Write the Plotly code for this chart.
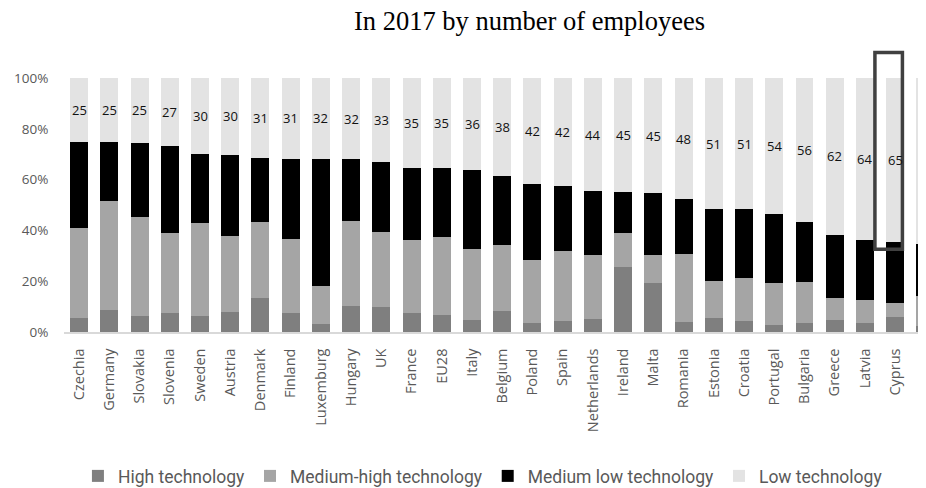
import plotly.graph_objects as go

countries = ["Czechia", "Germany", "Slovakia", "Slovenia", "Sweden", "Austria", "Denmark",
             "Finland", "Luxemburg", "Hungary", "UK", "France", "EU28", "Italy", "Belgium",
             "Poland", "Spain", "Netherlands", "Ireland", "Malta", "Romania", "Estonia",
             "Croatia", "Portugal", "Bulgaria", "Greece", "Latvia", "Cyprus", "Lithuania"]

high = [5.5, 8.6, 6.2, 7.4, 6.3, 7.9, 13.4, 7.4, 3.2, 10.3, 9.7, 7.4, 6.7, 4.7, 8.3,
        3.4, 4.5, 5.1, 25.5, 19.2, 3.8, 5.4, 4.2, 2.6, 3.4, 4.9, 3.6, 5.8, 2.4]
medium_high = [35.3, 42.8, 39.2, 31.5, 36.5, 30.0, 30.0, 29.3, 15.1, 33.4, 29.6, 29.0, 30.8,
               28.1, 25.8, 24.8, 27.3, 25.3, 13.6, 11.3, 27.0, 14.6, 17.2, 16.5, 16.2, 8.4,
               8.9, 5.5, 11.7]
medium_low = [34.2, 23.3, 29.1, 34.3, 27.3, 31.8, 25.2, 31.6, 50.0, 24.3, 27.5, 28.3, 27.0,
              30.9, 27.3, 30.0, 25.8, 25.0, 15.9, 24.1, 21.4, 28.3, 26.9, 27.2, 23.8, 24.9,
              23.6, 24.0, 20.5]
low = [25.0, 25.3, 25.5, 26.8, 29.9, 30.3, 31.4, 31.7, 31.7, 32.0, 33.2, 35.3, 35.5, 36.3,
       38.6, 41.8, 42.4, 44.6, 45.0, 45.4, 47.8, 51.7, 51.7, 53.7, 56.6, 61.8, 63.9, 64.7, 65.4]
low_labels = [25, 25, 25, 27, 30, 30, 31, 31, 32, 32, 33, 35, 35, 36, 38, 42, 42, 44, 45,
              45, 48, 51, 51, 54, 56, 62, 64, 65, 65]

series_names = ["High technology", "Medium-high technology", "Medium low technology", "Low technology"]
series_colors = ["#7f7f7f", "#a5a5a5", "#000000", "#e3e3e3"]
y_ticks = [0, 20, 40, 60, 80, 100]
y_ticktext = ["0%", "20%", "40%", "60%", "80%", "100%"]
highlighted = "Cyprus"

idx = list(range(len(countries)))

fig = go.Figure()
for name, vals, col in zip(series_names, [high, medium_high, medium_low, low], series_colors):
    fig.add_trace(go.Bar(x=idx, y=vals, name=name, marker=dict(color=col, line=dict(width=0))))

# value labels centred in the "Low technology" segment
for i in idx:
    base = high[i] + medium_high[i] + medium_low[i]
    fig.add_annotation(x=i, y=base + low[i] / 2, xref="x", yref="y", text=str(low_labels[i]),
                       showarrow=False, xanchor="center", yanchor="middle",
                       font=dict(family="Open Sans", size=13, color="#111111"))

hi = countries.index(highlighted)
fig.add_shape(type="rect", xref="x", yref="paper", x0=hi - 0.67, x1=hi + 0.24,
              y0=0.326, y1=1.10, line=dict(color="#404040", width=3.5), layer="above")

fig.add_annotation(text="In 2017 by number of employees", xref="paper", yref="paper",
                   x=0.5406, y=1.224, showarrow=False, xanchor="center", yanchor="middle",
                   font=dict(family="Liberation Serif", size=26.5, color="#000000"))

fig.update_layout(
    width=918, height=480,
    margin=dict(l=56, r=0, t=70, b=156, autoexpand=False),
    barmode="stack", bargap=0.405,
    plot_bgcolor="white", paper_bgcolor="white",
    showlegend=True,
    legend=dict(orientation="h", x=0.486, xanchor="center", y=-0.567, yanchor="middle",
                font=dict(family="Roboto", size=17.5, color="#595959"),
                traceorder="normal", itemwidth=30),
    xaxis=dict(range=[-0.5, 28.02], tickmode="array", tickvals=idx, ticktext=countries,
               tickangle=-90, showline=True, linecolor="#d9d9d9", linewidth=1.5,
               showgrid=False, ticks="outside", ticklen=9, tickcolor="rgba(0,0,0,0)",
               ticklabeloverflow="allow",
               tickfont=dict(family="Open Sans", size=14.5, color="#595959"),
               zeroline=False, automargin=False),
    yaxis=dict(range=[0, 100], tickmode="array", tickvals=y_ticks, ticktext=y_ticktext,
               showgrid=False, showline=False, zeroline=False, ticks="outside", ticklen=12,
               tickcolor="rgba(0,0,0,0)", automargin=False,
               tickfont=dict(family="Open Sans", size=13.5, color="#595959")),
)

fig.write_html("out.html")
